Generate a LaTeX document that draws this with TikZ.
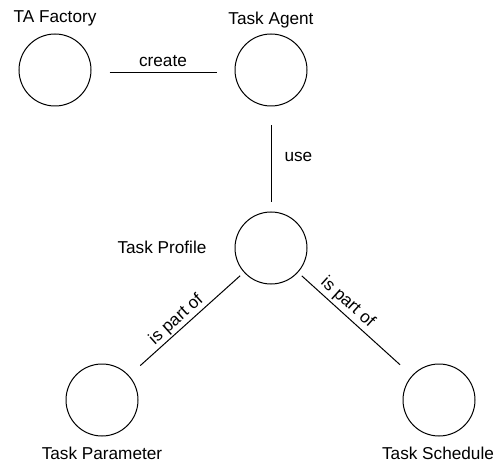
\documentclass[tikz,border=0pt]{standalone}
\usepackage{fontspec}
\setmainfont{Liberation Sans}
\begin{document}
\begin{tikzpicture}[x=1pt,y=-1pt,
  every node/.style={font=\fontsize{17.2}{20}\selectfont},
  obj/.style={draw,circle,minimum size=72pt,inner sep=0pt,line width=1pt},
  caption/.style={inner sep=0pt},
  link/.style={line width=1pt},
  rel/.style={inner sep=1.5pt,sloped,above}]
\useasboundingbox (0,0) rectangle (497,462);

% objects
\node[obj] (fac) at (55,70) {};
\node[obj] (agent) at (271,70) {};
\node[obj] (prof) at (271,248) {};
\node[obj] (param) at (102,400) {};
\node[obj] (sched) at (439,400) {};

% object names
\node[caption] (facname) at (55,18) {TA Factory};
\node[caption] (agentname) at (271,20) {Task Agent};
\node[caption] (profname) at (162,247) {Task Profile};
\node[caption] (paramname) at (102,453) {Task Parameter};
\node[caption] (schedname) at (438,453) {Task Schedule};

% relations
\draw[link,shorten <=18pt,shorten >=18pt] ([yshift=-3pt]fac.east) -- ([yshift=-3pt]agent.west)
  node[caption,pos=0.5,above=6pt] (createlbl) {create};
\draw[link,shorten <=19pt,shorten >=9pt] (agent.south) -- (prof.north)
  node[caption,pos=0.48,right=13pt] (uselbl) {use};
\draw[link,shorten <=15pt,shorten >=5pt] (param) -- (prof)
  node[rel,pos=0.47] (partA) {is part of};
\draw[link,shorten <=5pt,shorten >=16pt] (prof) -- (sched)
  node[rel,pos=0.37,inner sep=2.5pt] (partB) {is part of};
\end{tikzpicture}
\end{document}
